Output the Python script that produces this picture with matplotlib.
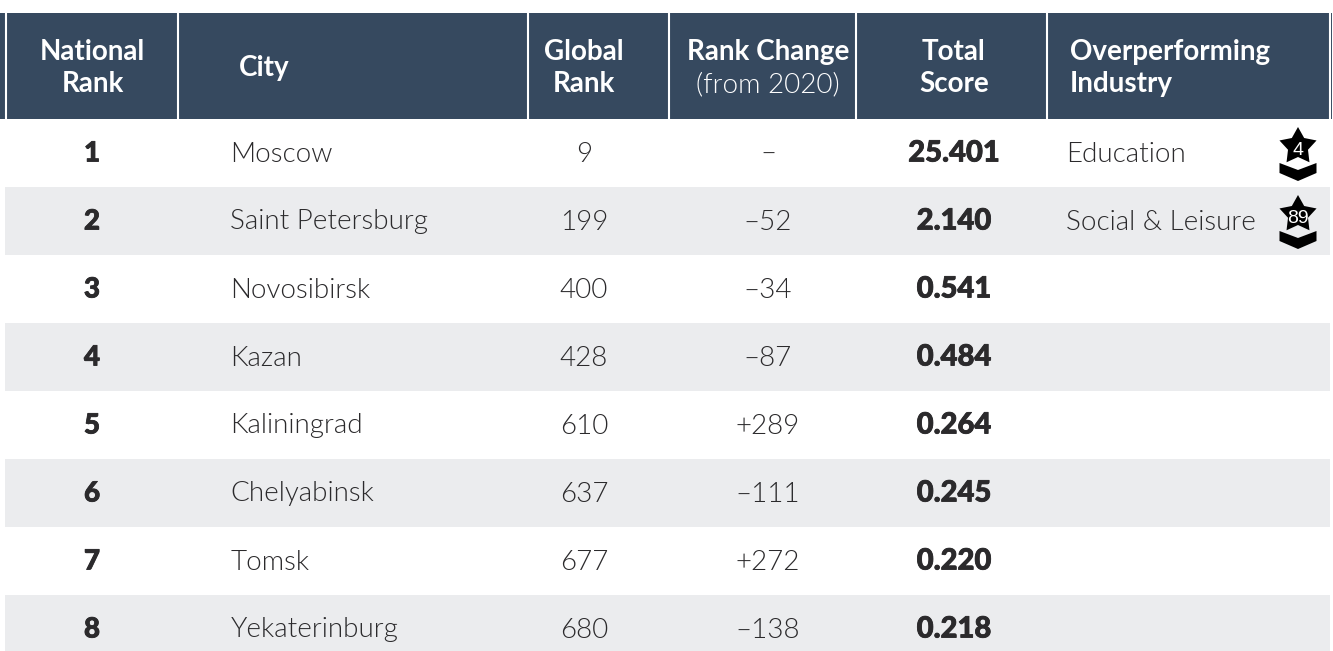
import numpy as np
import matplotlib
matplotlib.use("Agg")
import matplotlib.pyplot as plt
import matplotlib.patheffects as pe
from matplotlib.patches import Polygon, Rectangle

# --- Daten ---
national_rank = ["1", "2", "3", "4", "5", "6", "7", "8"]
cities = ["Moscow", "Saint Petersburg", "Novosibirsk", "Kazan", "Kaliningrad",
          "Chelyabinsk", "Tomsk", "Yekaterinburg"]
global_rank = ["9", "199", "400", "428", "610", "637", "677", "680"]
rank_change = ["–", "–52", "–34", "–87", "+289", "–111", "+272", "–138"]
total_score = ["25.401", "2.140", "0.541", "0.484", "0.264", "0.245", "0.220", "0.218"]
industry = ["Education", "Social & Leisure", "", "", "", "", "", ""]
badge = ["4", "89", "", "", "", "", "", ""]

NAVY = "#36495f"
GREY = "#ebecee"
TEXT = "#2b2a2c"

plt.rcParams["font.family"] = "Lato"

fig = plt.figure(figsize=(13.33, 6.51), dpi=100)
ax = fig.add_axes([0, 0, 1, 1])
ax.set_xlim(0, 1333)
ax.set_ylim(651, 0)
ax.axis("off")

# --- Kopfzeile ---
ax.add_patch(Rectangle((0, 13), 1332, 106, fc=NAVY, ec="none"))
for x in [5.5, 178, 528, 669, 856, 1047, 1329.5]:
    ax.plot([x, x], [13, 119], color="white", lw=1.5, solid_capstyle="butt")


def header(x, y, s, ha="center", weight="bold"):
    ax.text(x, y, s, ha=ha, va="baseline", color="white", fontsize=20, fontweight=weight)


header(92, 60, "National")
header(92.5, 92, "Rank")
header(239, 76, "City", ha="left")
header(584, 60, "Global")
header(584, 92, "Rank")
header(768, 60, "Rank Change")
header(768, 92, "(from 2020)", weight=300)
header(954, 60, "Total")
header(954, 92, "Score")
header(1070, 60, "Overperforming", ha="left")
header(1070, 92, "Industry", ha="left")


def draw_badge(cx, cy, label):
    # Stern mit Winkel darunter
    angles = np.deg2rad(np.arange(10) * 36 - 90)
    radii = np.where(np.arange(10) % 2 == 0, 19.5, 10.5)
    star = np.c_[cx + radii * np.cos(angles), cy - 6.5 + radii * np.sin(angles)]
    ax.add_patch(Polygon(star, fc="black", ec="none"))
    chevron = [(cx - 18.5, cy + 10), (cx, cy + 17), (cx + 18.5, cy + 10),
               (cx + 18.5, cy + 20), (cx, cy + 28), (cx - 18.5, cy + 20)]
    ax.add_patch(Polygon(chevron, fc="black", ec="none"))
    ax.text(cx, cy + 2, label, ha="center", va="baseline", color="white", fontsize=14,
            family=["Liberation Sans Narrow", "Liberation Sans", "DejaVu Sans"])


# --- Zeilen ---
fat = [pe.withStroke(linewidth=0.6, foreground=TEXT)]
for i in range(len(cities)):
    y = 153 + 68 * i
    base = y + 8.5
    if i % 2 == 1:
        ax.add_patch(Rectangle((5, y - 34), 1325, 68, fc=GREY, ec="none"))
    ax.text(92, base, national_rank[i], ha="center", va="baseline", color=TEXT,
            fontsize=20, fontweight="black", path_effects=fat)
    ax.text(230.5, base, cities[i], ha="left", va="baseline", color=TEXT, fontsize=20, fontweight=300)
    ax.text(584, base, global_rank[i], ha="center", va="baseline", color=TEXT, fontsize=20, fontweight=300)
    ax.text(768, base, rank_change[i], ha="center", va="baseline", color=TEXT, fontsize=20, fontweight=300)
    ax.text(954, base, total_score[i], ha="center", va="baseline", color=TEXT,
            fontsize=21, fontweight="black", path_effects=fat)
    if industry[i]:
        ax.text(1066, base, industry[i], ha="left", va="baseline", color=TEXT, fontsize=20, fontweight=300)
        draw_badge(1298, y, badge[i])

fig.savefig("out.png", dpi=100)
